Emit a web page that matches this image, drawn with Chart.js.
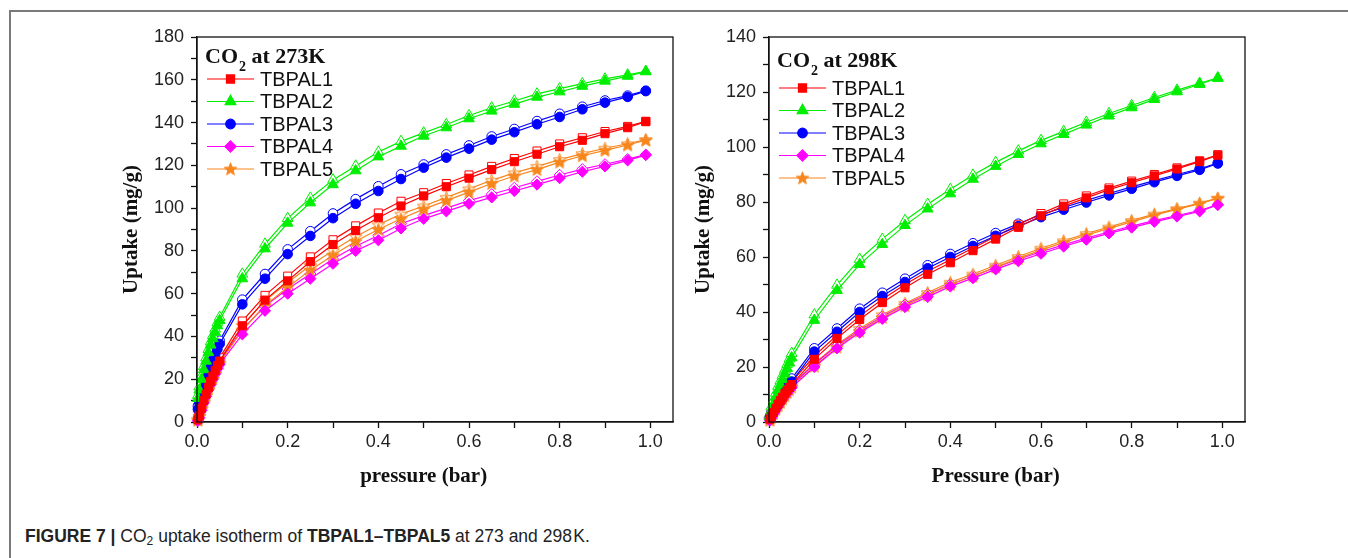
<!DOCTYPE html>
<html>
<head>
<meta charset="utf-8">
<script src="https://cdn.jsdelivr.net/npm/chart.js@4.4.1/dist/chart.umd.min.js"></script>
<style>
  html, body { margin: 0; padding: 0; background: #fff; }
  body { width: 1348px; height: 558px; position: relative; overflow: hidden; }
  #frame { position: absolute; left: 9px; top: 10px; width: 1345px; height: 560px;
           border-left: 2px solid #7a7a7a; border-top: 2px solid #7a7a7a; }
  .box { position: absolute; top: 0; width: 600px; height: 500px; }
  #caption { position: absolute; left: 25px; top: 526px; font-family: "Liberation Sans", Arial, sans-serif;
             font-size: 17.5px; color: #222; white-space: nowrap; }
  #caption sub { font-size: 12px; vertical-align: -3px; line-height: 0; }
</style>
</head>
<body>
<div id="frame"></div>
<div class="box" style="left:100px"><canvas id="c273" width="600" height="500"></canvas></div>
<div class="box" style="left:672px"><canvas id="c298" width="600" height="500"></canvas></div>
<div id="caption"><b>FIGURE 7 |</b> CO<sub>2</sub> uptake isotherm of <b>TBPAL1–TBPAL5</b> at 273 and 298&#8202;K.</div>
<script>
const pressure = [0.002, 0.005, 0.01, 0.015, 0.02, 0.025, 0.03, 0.035, 0.04, 0.045, 0.05,
  0.1, 0.15, 0.2, 0.25, 0.3, 0.35, 0.4, 0.45, 0.5, 0.55, 0.6, 0.65, 0.7, 0.75, 0.8, 0.85, 0.9, 0.95, 0.99];

const names = ['TBPAL1', 'TBPAL2', 'TBPAL3', 'TBPAL4', 'TBPAL5'];
const colors = ['#FF0000', '#00EE00', '#0000FF', '#FF00FF', '#F7861C'];
const markers = ['rect', 'triangle', 'circle', 'rectRot', 'star'];
const markerSize = [5.7, 6.2, 4.8, 5.6, 6];

const xTicks = [0, 0.2, 0.4, 0.6, 0.8, 1.0];

// 273 K adsorption (filled) / desorption (open)
const ads273_1 = [1, 3, 6.5, 10, 13, 16, 19, 21.5, 24, 26.5, 28.5, 45, 57, 66, 75, 83, 89.5, 95.5, 101, 105.7, 110, 114, 118, 121.7, 125.2, 128.7, 131.7, 134.8, 137.6, 140.4];
const ads273_2 = [11, 15, 20, 24.5, 28.5, 32.5, 36, 39, 42, 45, 47.5, 67, 81, 93, 102.5, 111, 117.5, 124, 129, 133.7, 137.6, 141.8, 145.4, 148.6, 151.9, 154.4, 157, 159.4, 161.7, 163.8];
const ads273_3 = [6, 9, 13, 16.5, 20, 23, 26, 29, 31.5, 34, 36.5, 55, 67, 78.5, 87, 95.3, 102, 108, 113.6, 118.9, 123.6, 127.8, 132, 135.5, 139.2, 142.6, 146.2, 149.3, 152, 154.7];
const ads273_4 = [0.5, 2, 5.5, 9, 12, 15, 17.5, 20, 22.5, 25, 27, 41, 52, 60, 67, 74, 80, 85, 90.5, 95, 98.5, 102, 105, 108, 111, 114, 117, 119.5, 122.3, 124.8];
const ads273_5 = [0.8, 2.5, 6, 9.5, 12.5, 15.5, 18, 20.5, 23, 25.5, 27.5, 43, 54.5, 63, 71, 78, 84.5, 90, 95, 99.5, 103.5, 107.5, 111.5, 115, 118, 121.5, 124.5, 127, 129.5, 131.8];

const des273_1 = [1.5, 4.5, 8, 11.5, 14.5, 17.5, 20.5, 23, 25.5, 28, 30, 47.2, 59.2, 68.2, 77.2, 85.2, 91.7, 97.7, 103.2, 107.2, 111.5, 115.5, 119.5, 123.2, 126.7, 130, 132.9, 135.8, 138.2, 140.6];
const des273_2 = [12.5, 16.5, 21.5, 26, 30, 34, 37.5, 40.5, 43.5, 46.5, 49, 69.2, 83.2, 95.2, 104.7, 113.2, 119.7, 126.2, 131.2, 135.2, 139.1, 143.3, 146.9, 150.1, 153.4, 155.9, 158.2, 160.4, 162.3, 164];
const des273_3 = [7.5, 10.5, 14.5, 18, 21.5, 24.5, 27.5, 30.5, 33, 35.5, 38, 57.2, 69.2, 80.7, 89.2, 97.5, 104.2, 110.2, 115.8, 120.4, 125.1, 129.3, 133.5, 137, 140.7, 144.1, 147.4, 150.3, 152.6, 154.9];
const des273_4 = [1, 3.5, 7, 10.5, 13.5, 16.5, 19, 21.5, 24, 26.5, 28.5, 43.2, 54.2, 62.2, 69.2, 76.2, 82.2, 87.2, 92.7, 96.5, 100, 103.5, 106.5, 109.5, 112.5, 115.5, 118.2, 120.5, 122.9, 125];
const des273_5 = [1.3, 4, 7.5, 11, 14, 17, 19.5, 22, 24.5, 27, 29, 45.2, 56.7, 65.2, 73.2, 80.2, 86.7, 92.2, 97.2, 101, 105, 109, 113, 116.5, 119.5, 122.7, 125.5, 128, 130.1, 132];

// 298 K adsorption (filled) / desorption (open)
const ads298_1 = [1, 2, 3.5, 5, 6.5, 7.8, 9, 10.3, 11.5, 12.6, 13.6, 22.8, 30.4, 37.3, 43.4, 48.8, 53.7, 57.9, 62.3, 66.5, 70.8, 75, 78.5, 81.5, 84.5, 87, 89.5, 92, 94.7, 97];
const ads298_2 = [2, 4, 6.5, 9, 11.5, 13.5, 15.5, 17.5, 19.5, 21.5, 23.4, 37, 47.9, 57.3, 64.6, 71.5, 77.5, 83, 88.3, 93, 97.3, 101.2, 104.6, 108, 111.3, 114.3, 117.3, 120.1, 122.8, 125];
const ads298_3 = [1.5, 2.5, 4, 5.5, 7, 8.5, 10, 11.2, 12.5, 13.6, 14.7, 25.6, 32.8, 40, 45.8, 50.9, 55.9, 60, 64, 67.7, 71.2, 74.5, 77.2, 79.8, 82.4, 84.8, 87.2, 89.5, 91.7, 94];
const ads298_4 = [0.5, 1.5, 3, 4.5, 5.8, 7, 8.3, 9.5, 10.6, 11.6, 12.5, 20, 26.8, 32.5, 37.5, 41.8, 45.5, 49.3, 52.3, 55.5, 58.5, 61.2, 63.8, 66.3, 68.6, 70.7, 72.8, 74.7, 76.6, 78.9];
const ads298_5 = [0.6, 1.6, 3.1, 4.6, 5.9, 7.1, 8.4, 9.6, 10.7, 11.7, 12.7, 20.3, 27.2, 33, 38, 42.3, 46.2, 50, 53, 56.3, 59.5, 62.5, 65.3, 67.9, 70.4, 72.8, 75.2, 77.3, 79.4, 81.3];

const des298_1 = [1.5, 2.8, 4.5, 6, 7.5, 8.8, 10, 11.3, 12.5, 13.6, 14.6, 24, 31.6, 38.5, 44.6, 50, 54.8, 59, 63.3, 67.5, 71.7, 75.8, 79.3, 82.2, 85.1, 87.6, 90, 92.4, 95, 97.2];
const des298_2 = [3, 5.5, 8, 10.5, 13, 15, 17, 19, 21, 23, 25, 39, 49.8, 59.2, 66.5, 73.3, 79.2, 84.6, 89.8, 94.4, 98.6, 102.4, 105.7, 109, 112.2, 115.1, 118, 120.7, 123.2, 125.2];
const des298_3 = [2, 3.3, 5, 6.5, 8, 9.5, 11, 12.3, 13.6, 14.7, 15.8, 26.8, 34, 41.2, 47, 52.1, 57, 61.1, 65, 68.7, 72.1, 75.4, 78, 80.6, 83.1, 85.5, 87.8, 90, 92.1, 94.2];
const des298_4 = [1, 2.2, 3.8, 5.3, 6.6, 7.8, 9.1, 10.3, 11.4, 12.4, 13.3, 21, 27.8, 33.4, 38.4, 42.7, 46.4, 50.1, 53.1, 56.2, 59.2, 61.9, 64.4, 66.9, 69.1, 71.2, 73.2, 75.1, 76.9, 79.1];
const des298_5 = [1.1, 2.3, 3.9, 5.4, 6.7, 7.9, 9.2, 10.4, 11.5, 12.5, 13.5, 21.3, 28.2, 34, 39, 43.2, 47.1, 50.8, 53.8, 57, 60.2, 63.2, 65.9, 68.5, 70.9, 73.3, 75.6, 77.6, 79.6, 81.4];

const SANS = '"Liberation Sans", Arial, sans-serif';
const SERIF = '"Liberation Serif", "Times New Roman", serif';

// five-point star marker (Chart.js "star" is only an asterisk)
const starImage = (fill, stroke) => {
  const c = document.createElement('canvas');
  c.width = 15; c.height = 15;
  const g = c.getContext('2d');
  g.beginPath();
  for (let i = 0; i < 10; i++) {
    const r = i % 2 ? 2.8 : 6.6;
    const a = -Math.PI / 2 + i * Math.PI / 5;
    g.lineTo(7.5 + r * Math.cos(a), 8 + r * Math.sin(a));
  }
  g.closePath();
  g.fillStyle = fill; g.fill();
  g.strokeStyle = stroke; g.lineWidth = 1; g.stroke();
  return c;
};
const starFilled = starImage(colors[4], colors[4]);
const starOpen = starImage('#ffffff', colors[4]);

const styleFor = (k, open) => markers[k] === 'star' ? (open ? starOpen : starFilled) : markers[k];

const makeSets = (ads, des) => {
  const sets = [];
  ads.forEach((vals, k) => sets.push({
    label: names[k],
    data: pressure.map((p, i) => ({ x: p, y: vals[i] })),
    borderColor: colors[k], backgroundColor: colors[k],
    pointStyle: styleFor(k, false), pointRadius: markerSize[k],
    pointBorderWidth: 1, borderWidth: 1.2, tension: 0, clip: false
  }));
  des.forEach((vals, k) => sets.push({
    label: names[k] + ' des',
    data: pressure.map((p, i) => ({ x: p, y: vals[i] })),
    borderColor: colors[k], backgroundColor: colors[k], pointBackgroundColor: '#ffffff',
    pointStyle: styleFor(k, true), pointRadius: markerSize[k],
    pointBorderWidth: 1, borderWidth: 1.2, tension: 0, clip: false
  }));
  return sets;
};

// frame on all four sides, x title and the inset legend
const decor = {
  id: 'decor',
  afterDraw(chart, args, o) {
    const { ctx, chartArea: a, scales } = chart;
    ctx.save();
    ctx.strokeStyle = '#111';
    ctx.lineWidth = 1.3;
    ctx.strokeRect(a.left, a.top, a.right - a.left, a.bottom - a.top);

    ctx.fillStyle = '#111';
    ctx.font = 'bold 21px ' + SERIF;
    ctx.textAlign = 'center';
    ctx.textBaseline = 'middle';
    ctx.fillText(o.xTitle, scales.x.getPixelForValue(0.5), 477);

    // legend title: CO2 at ...K
    ctx.font = 'bold 22px ' + SERIF;
    ctx.textAlign = 'left';
    ctx.textBaseline = 'alphabetic';
    let tx = a.left + o.dx;
    const ty = a.top + o.titleDy;
    ctx.fillText('CO', tx, ty);
    tx += ctx.measureText('CO').width + 1;
    ctx.font = 'bold 14px ' + SERIF;
    ctx.fillText('2', tx, ty + 8);
    tx += ctx.measureText('2').width;
    ctx.font = 'bold 22px ' + SERIF;
    ctx.fillText(' at ' + o.temp, tx, ty);

    ctx.font = '20px ' + SANS;
    ctx.textBaseline = 'middle';
    names.forEach((n, k) => {
      const y = a.top + o.rowDy + k * 22.5;
      const x0 = a.left + o.dx + 2, x1 = x0 + 47;
      ctx.strokeStyle = colors[k];
      ctx.lineWidth = 1.2;
      ctx.beginPath(); ctx.moveTo(x0, y); ctx.lineTo(x1, y); ctx.stroke();
      ctx.fillStyle = colors[k];
      Chart.helpers.drawPoint(ctx, { pointStyle: styleFor(k, false), radius: markerSize[k], rotation: 0, borderWidth: 1 }, (x0 + x1) / 2, y);
      ctx.fillStyle = '#111';
      ctx.fillText(n, x1 + 6, y + 1);
    });
    ctx.restore();
  }
};

const makeChart = (id, ads, des, yMax, xTitle, temp, titleDy, rowDy) => new Chart(document.getElementById(id), {
  type: 'line',
  data: { datasets: makeSets(ads, des) },
  options: {
    responsive: false,
    animation: false,
    events: [],
    layout: { padding: { top: 37, right: 27, left: 0, bottom: 0 } },
    plugins: {
      legend: { display: false },
      tooltip: { enabled: false },
      decor: { xTitle, temp, dx: 8, titleDy, rowDy }
    },
    scales: {
      x: {
        type: 'linear', min: 0, max: 1.05,
        border: { color: '#111', width: 1.3 },
        grid: { drawOnChartArea: false, drawTicks: true, tickLength: 6, tickColor: '#111', tickWidth: 1.3 },
        ticks: {
          stepSize: 0.1, includeBounds: false, autoSkip: false, maxRotation: 0,
          color: '#222', padding: 3, font: { family: SANS, size: 18 },
          callback: v => xTicks.some(t => Math.abs(t - v) < 1e-6) ? v.toFixed(1) : ''
        },
        afterFit: s => { s.height = 78; }
      },
      y: {
        min: 0, max: yMax,
        border: { color: '#111', width: 1.3 },
        grid: { drawOnChartArea: false, drawTicks: true, tickLength: 6, tickColor: '#111', tickWidth: 1.3 },
        ticks: {
          stepSize: 10, autoSkip: false, color: '#222', padding: 7,
          font: { family: SANS, size: 18 },
          callback: v => v % 20 === 0 ? v : ''
        },
        title: { display: true, text: 'Uptake (mg/g)', color: '#111', font: { family: SERIF, size: 21, weight: 'bold' }, padding: { top: 19, bottom: 0 } },
        afterFit: s => { s.width = 97; }
      }
    }
  },
  plugins: [decor]
});

makeChart('c273', [ads273_1, ads273_2, ads273_3, ads273_4, ads273_5],
  [des273_1, des273_2, des273_3, des273_4, des273_5], 180, 'pressure (bar)', '273K', 26, 42);
makeChart('c298', [ads298_1, ads298_2, ads298_3, ads298_4, ads298_5],
  [des298_1, des298_2, des298_3, des298_4, des298_5], 140, 'Pressure (bar)', '298K', 30, 51);
</script>
</body>
</html>
